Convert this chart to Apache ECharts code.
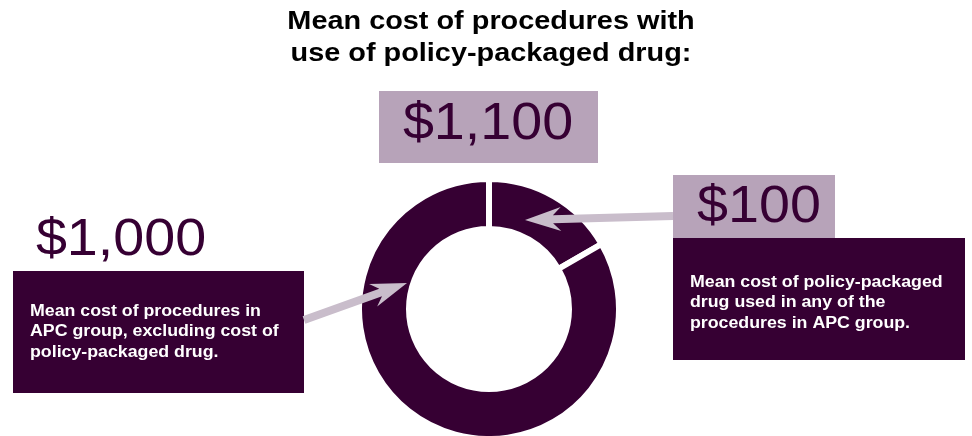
<!DOCTYPE html>
<html>
<head>
<meta charset="utf-8">
<script src="https://cdn.jsdelivr.net/npm/echarts@6/dist/echarts.min.js"></script>
<style>
  html, body { margin: 0; padding: 0; background: #fff; }
  #main { width: 972px; height: 436px; }
</style>
</head>
<body>
<div id="main"></div>
<script>
// data
var titleLines = ['Mean cost of procedures with', 'use of policy-packaged drug:'];
var categories = ['Policy-packaged drug', 'Procedures excluding drug'];
var costLabels = ['$100', '$1,000'];
var totalLabel = '$1,100';
// the ring is schematic, not to scale: arc sizes measured in degrees
var arcDegrees = [60, 300];
var notes = [
  'Mean cost of policy-packaged\ndrug used in any of the\nprocedures in APC group.',
  'Mean cost of procedures in\nAPC group, excluding cost of\npolicy-packaged drug.'
];

var DARK = '#360033', LIGHT = '#b7a3b9', ARROW = '#c9bdcb';
var FONT = '"Liberation Sans", Arial, sans-serif';

var chart = echarts.init(document.getElementById('main'));

// arrow polygon from (x1,y1) to tip (x2,y2)
function arrow(x1, y1, x2, y2) {
  var dx = x2 - x1, dy = y2 - y1, len = Math.sqrt(dx * dx + dy * dy);
  var ux = dx / len, uy = dy / len, nx = -uy, ny = ux;
  var hl = 36, hw = 12, sw = 4, back = 8;
  var bx = x2 - ux * hl, by = y2 - uy * hl;
  var nk = x2 - ux * (hl - back), nky = y2 - uy * (hl - back);
  return {
    type: 'polygon', silent: true, z: 10,
    shape: { points: [
      [x1 + nx * sw, y1 + ny * sw],
      [nk + nx * sw, nky + ny * sw],
      [bx + nx * hw, by + ny * hw],
      [x2, y2],
      [bx - nx * hw, by - ny * hw],
      [nk - nx * sw, nky - ny * sw],
      [x1 - nx * sw, y1 - ny * sw]
    ] },
    style: { fill: ARROW }
  };
}

// the source text is a little wider than Arial, hence scaleX
function bigText(txt, x, y) {
  return {
    type: 'text', silent: true, x: x, y: y, scaleX: 1.07, z: 10,
    style: { text: txt, fill: DARK, font: '52px ' + FONT, align: 'center', verticalAlign: 'middle' }
  };
}

function noteText(txt, x, y) {
  return {
    type: 'text', silent: true, x: x, y: y, scaleX: 1.11, z: 10,
    style: { text: txt, fill: '#fff', font: 'bold 16px ' + FONT, lineHeight: 20.5, align: 'left', verticalAlign: 'top' }
  };
}

function box(x, y, w, h, fill) {
  return { type: 'rect', silent: true, z: 5, shape: { x: x, y: y, width: w, height: h }, style: { fill: fill } };
}

var option = {
  backgroundColor: '#fff',
  animation: false,
  graphic: [
    {
      type: 'text', silent: true, x: 491, y: 6, scaleX: 1.11, z: 10,
      style: { text: titleLines.join('\n'), fill: '#000', font: 'bold 26px ' + FONT, lineHeight: 32, align: 'center', verticalAlign: 'top' }
    },
    box(379, 91, 219, 72, LIGHT),
    bigText(totalLabel, 488, 125),
    box(673, 175, 162, 63, LIGHT),
    bigText(costLabels[0], 759, 208),
    box(673, 238, 292, 122, DARK),
    noteText(notes[0], 690, 272),
    bigText(costLabels[1], 121, 241),
    box(13, 271, 291, 122, DARK),
    noteText(notes[1], 30, 301),
    arrow(304, 320, 407, 283),
    arrow(673, 216, 525, 220)
  ],
  series: [{
    type: 'pie',
    center: [489, 309],
    radius: [80, 130],
    startAngle: 90,
    clockwise: true,
    silent: true,
    z: 1,
    label: { show: false },
    labelLine: { show: false },
    emphasis: { disabled: true },
    itemStyle: { color: DARK, borderColor: '#fff', borderWidth: 6 },
    data: categories.map(function (c, i) { return { name: c, value: arcDegrees[i] }; })
  }]
};

chart.setOption(option);
</script>
</body>
</html>
